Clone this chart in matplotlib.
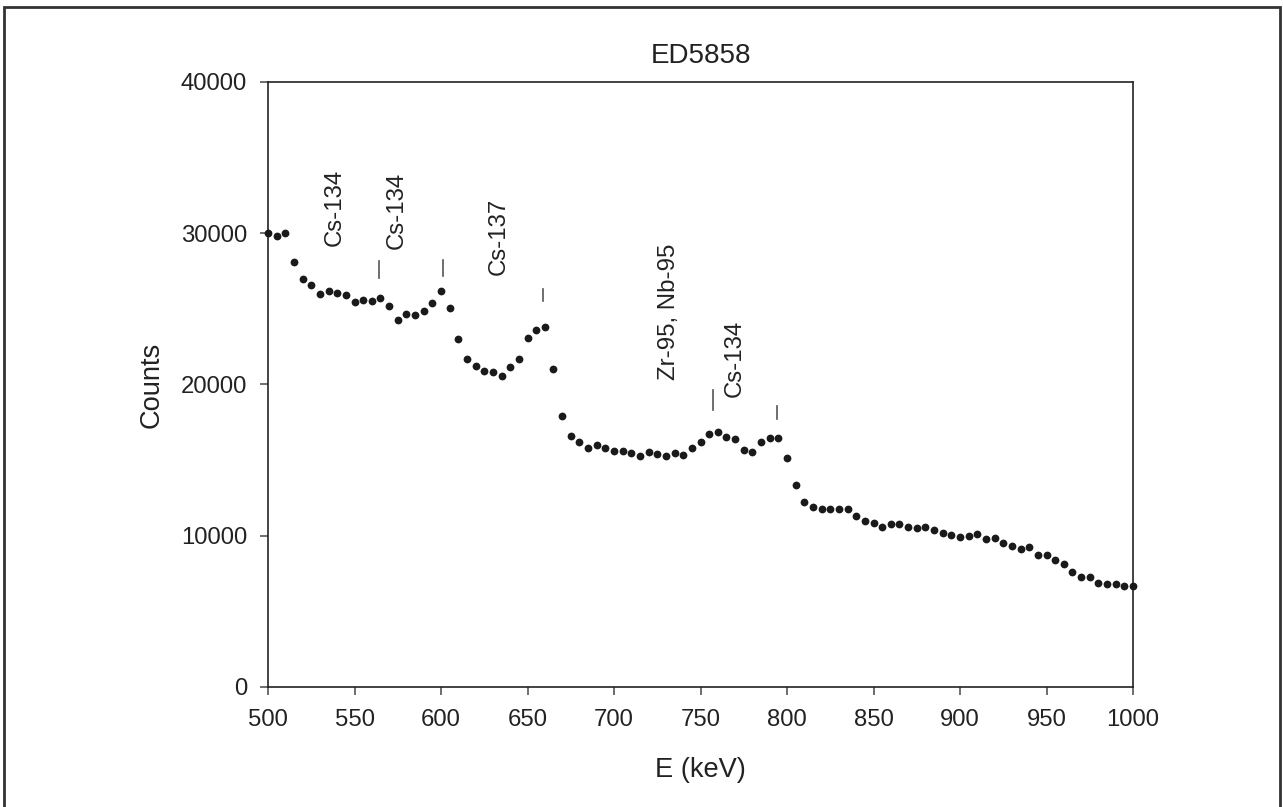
import numpy as np
import matplotlib
matplotlib.use('Agg')
import matplotlib.pyplot as plt
from matplotlib.patches import Rectangle
from matplotlib import rcParams

textcolor = '#222222'

rcParams['font.family'] = ['Liberation Sans', 'DejaVu Sans']
rcParams['text.color'] = textcolor
rcParams['axes.edgecolor'] = '#222222'
rcParams['xtick.color'] = '#555555'
rcParams['ytick.color'] = '#555555'
rcParams['xtick.labelcolor'] = textcolor
rcParams['ytick.labelcolor'] = textcolor

# Data: spectrum channels (keV) and counts.
energy = list(range(500, 1001, 5))
counts = [
    30000, 29800, 30000, 28100, 27000, 26600, 26000, 26150, 26050, 25900,
    25450, 25600, 25550, 25750, 25200, 24250, 24650, 24600, 24850, 25400,
    26200, 25050, 23000, 21700, 21200, 20900, 20800, 20550, 21150, 21700,
    23100, 23600, 23800, 21050, 17900, 16600, 16200, 15800, 16000, 15800,
    15600, 15600, 15500, 15300, 15550, 15400, 15250, 15450, 15350, 15800,
    16200, 16700, 16850, 16500, 16400, 15650, 15550, 16200, 16450, 16450,
    15150, 13350, 12200, 11900, 11750, 11800, 11750, 11750, 11300, 11000,
    10850, 10600, 10750, 10800, 10600, 10500, 10600, 10350, 10150, 10050,
    9950, 10000, 10100, 9800, 9850, 9550, 9350, 9100, 9250, 8750,
    8700, 8400, 8100, 7600, 7300, 7250, 6900, 6800, 6800, 6700,
    6700,
]

# Peak identification marks
peak_names = ['Cs-134', 'Cs-134', 'Cs-137', 'Zr-95, Nb-95', 'Cs-134']
peak_energy = [564, 601, 659, 757.5, 794]
peak_low = [27050, 27150, 25500, 18300, 17700]
peak_high = [28150, 28250, 26300, 19650, 18550]
label_energy = [538.7, 574.6, 633.5, 731.5, 769.7]
label_base = [29150, 28950, 27250, 20300, 19200]

xticks = [500, 550, 600, 650, 700, 750, 800, 850, 900, 950, 1000]
yticks = [0, 10000, 20000, 30000, 40000]

fig = plt.figure(figsize=(12.83, 8.07), dpi=100)
ax = fig.add_axes([0.2089, 0.1487, 0.8831 - 0.2089, 0.8984 - 0.1487])

ax.plot(energy, counts, 'o', color='#1a1a1a', markersize=5.6,
        markeredgewidth=0, clip_on=False, zorder=3)

for e, lo, hi in zip(peak_energy, peak_low, peak_high):
    ax.plot([e, e], [lo, hi], color='#555555', linewidth=1.2)

for name, e, b in zip(peak_names, label_energy, label_base):
    ax.text(e, b, name, rotation=90, ha='center', va='bottom',
            fontsize=17.3, color=textcolor)

ax.set_xlim(500, 1000)
ax.set_ylim(0, 40000)
ax.set_xticks(xticks)
ax.set_yticks(yticks)
ax.tick_params(axis='both', direction='out', length=6, width=1.2,
               labelsize=17.2)
ax.tick_params(axis='x', pad=10)
ax.tick_params(axis='y', pad=9)
for spine in ax.spines.values():
    spine.set_linewidth(1.2)

ax.set_title('ED5858', fontsize=20, pad=14, color=textcolor)
ax.set_xlabel('E (keV)', fontsize=19.6, color=textcolor)
ax.set_ylabel('Counts', fontsize=19.6, color=textcolor)
ax.xaxis.set_label_coords(0.5, -0.115)
ax.yaxis.set_label_coords(-0.12, 0.5)

# Frame around the whole figure, cut off at the bottom edge.
fig.patches.append(Rectangle((4 / 1283, -0.05), 1276 / 1283, 1.05 - 7 / 807,
                             transform=fig.transFigure, fill=False,
                             edgecolor='#333333', linewidth=2))

fig.savefig('out.png', dpi=100)
plt.close(fig)
